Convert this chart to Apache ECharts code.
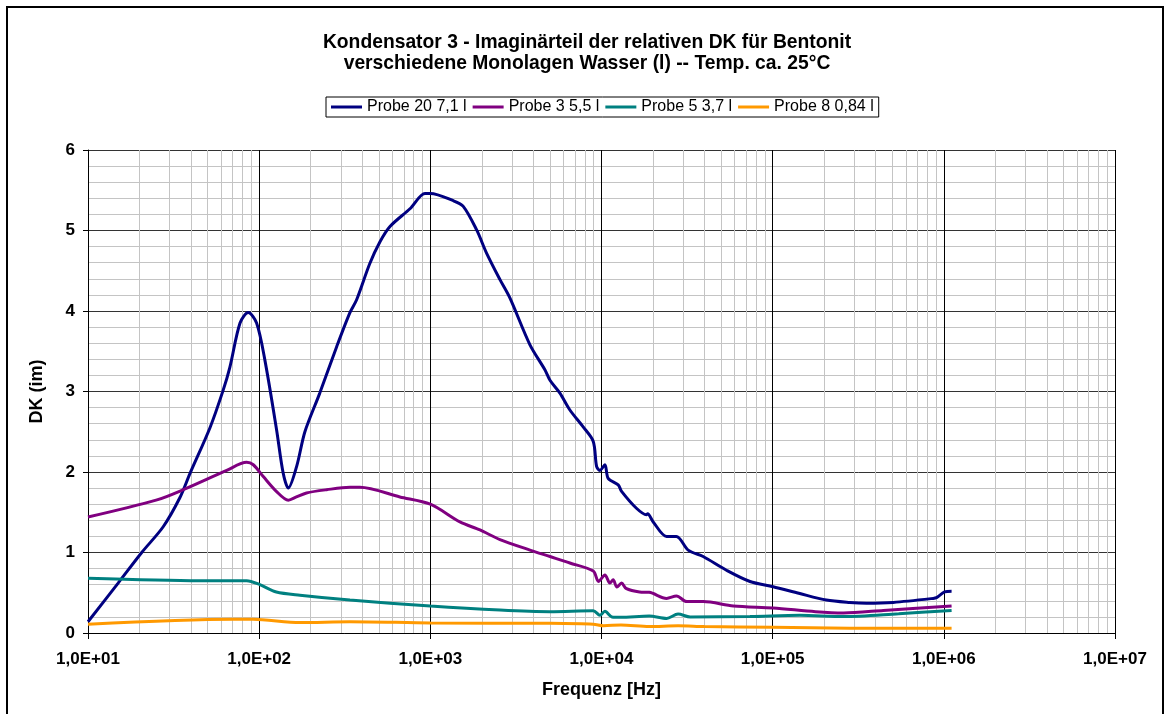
<!DOCTYPE html>
<html>
<head>
<meta charset="utf-8">
<script src="https://cdn.jsdelivr.net/npm/echarts@6/dist/echarts.min.js"></script>
<style>html,body{margin:0;padding:0;background:#fff}#c{width:1164px;height:714px}</style>
</head>
<body>
<div id="c"></div>
<script>
// ---- data ----
const seriesNames = ['Probe 20 7,1 l', 'Probe 3 5,5 l', 'Probe 5 3,7 l', 'Probe 8 0,84 l'];

const freq20 = [10, 15, 20.6, 27.5, 34.4, 39.4, 51.6, 61.7, 67.4, 77.3, 86.3, 96.6, 108, 126.5, 138, 148, 165.6, 185, 226, 284, 339, 371, 443, 508, 581, 760, 930, 1000, 1362, 1557, 1862, 2130, 2552, 2920, 3820, 4670, 5000, 5716, 6535, 7815, 8950, 9360, 9790, 10470, 10940, 12520, 13100, 16000, 18300, 18600, 20050, 24000, 27400, 32100, 39250, 53700, 73700, 100700, 144000, 206000, 282000, 353000, 506000, 867000, 906000, 1010000, 1110000];
const val20 = [0.14, 0.62, 1.0, 1.32, 1.68, 1.98, 2.55, 3.02, 3.30, 3.85, 3.98, 3.85, 3.39, 2.52, 1.99, 1.80, 2.07, 2.50, 2.98, 3.56, 3.98, 4.14, 4.59, 4.86, 5.05, 5.27, 5.46, 5.46, 5.37, 5.30, 5.01, 4.72, 4.39, 4.16, 3.58, 3.27, 3.14, 2.98, 2.77, 2.56, 2.38, 2.07, 2.02, 2.09, 1.92, 1.84, 1.76, 1.55, 1.47, 1.48, 1.38, 1.20, 1.20, 1.03, 0.95, 0.78, 0.64, 0.575, 0.49, 0.41, 0.38, 0.37, 0.38, 0.43, 0.44, 0.51, 0.52];

const freq3 = [10, 25, 36, 64.6, 84.5, 92.4, 106, 126, 148, 165, 189, 248, 339, 388, 664, 1000, 1489, 1950, 2552, 3820, 5000, 6535, 8950, 9600, 10470, 11200, 11700, 12300, 13100, 13900, 16700, 19000, 24000, 27400, 31500, 39250, 59000, 100700, 178000, 259000, 443000, 1110000];
const val3 = [1.44, 1.65, 1.78, 2.02, 2.12, 2.09, 1.94, 1.76, 1.65, 1.69, 1.74, 1.78, 1.81, 1.81, 1.69, 1.60, 1.38, 1.28, 1.16, 1.03, 0.95, 0.87, 0.77, 0.64, 0.72, 0.62, 0.66, 0.57, 0.62, 0.555, 0.51, 0.505, 0.43, 0.46, 0.39, 0.39, 0.335, 0.31, 0.265, 0.25, 0.28, 0.335];

const freq5 = [10, 45, 84.5, 101, 126, 173, 339, 1000, 2552, 5000, 8950, 9790, 10470, 11500, 12900, 19000, 24000, 28000, 33000, 73700, 144000, 259000, 545000, 1110000];
const val5 = [0.68, 0.65, 0.65, 0.60, 0.51, 0.47, 0.41, 0.335, 0.285, 0.265, 0.277, 0.22, 0.27, 0.20, 0.195, 0.21, 0.18, 0.235, 0.20, 0.205, 0.22, 0.205, 0.24, 0.28];

const freq8 = [10, 70.6, 92, 173, 339, 1000, 5000, 8950, 10300, 13000, 19000, 28000, 40000, 100000, 282000, 1110000];
const val8 = [0.11, 0.17, 0.17, 0.13, 0.14, 0.125, 0.12, 0.11, 0.09, 0.10, 0.08, 0.09, 0.08, 0.07, 0.06, 0.06];

const xTickLabels = ['1,0E+01', '1,0E+02', '1,0E+03', '1,0E+04', '1,0E+05', '1,0E+06', '1,0E+07'];
const yTickLabels = ['0', '1', '2', '3', '4', '5', '6'];
const minorFreqs = [];
[10, 100, 1000, 10000, 100000, 1000000].forEach(d => { for (let k = 2; k <= 9; k++) minorFreqs.push(k * d); });

const colors = ['#000080', '#800080', '#008080', '#FF9900'];
const freqs = [freq20, freq3, freq5, freq8];
const vals = [val20, val3, val5, val8];

const chart = echarts.init(document.getElementById('c'));
const font = 'Arial, "Liberation Sans", sans-serif';

const dataSeries = seriesNames.map((n, i) => ({
  name: n,
  type: 'line',
  data: freqs[i].map((f, j) => [f, vals[i][j]]),
  smooth: 0.3,
  showSymbol: false,
  symbol: 'none',
  z: 5,
  lineStyle: { color: colors[i], width: 3 },
  itemStyle: { color: colors[i] }
}));

chart.setOption({
  animation: false,
  backgroundColor: '#fff',
  title: {
    text: 'Kondensator 3 - Imaginärteil der relativen DK für Bentonit\nverschiedene Monolagen Wasser (l) -- Temp. ca. 25°C',
    left: 582,
    top: 27,
    padding: 5,
    textAlign: 'center',
    textStyle: { fontFamily: font, fontSize: 19.3, fontWeight: 'bold', color: '#000', lineHeight: 21 }
  },
  legend: {
    data: seriesNames,
    left: 326,
    top: 97,
    orient: 'horizontal',
    padding: [2, 5],
    itemGap: 6,
    itemWidth: 31,
    itemHeight: 3,
    icon: 'rect',
    borderColor: '#000',
    borderWidth: 1,
    borderRadius: 0,
    textStyle: { fontFamily: font, fontSize: 16, color: '#000' }
  },
  grid: { left: 88, right: 49, top: 150, bottom: 81, containLabel: false, outerBoundsMode: 'none' },
  xAxis: {
    type: 'log',
    logBase: 10,
    min: 10,
    max: 1e7,
    name: 'Frequenz [Hz]',
    nameLocation: 'middle',
    nameGap: 48,
    nameTextStyle: { fontFamily: font, fontSize: 18, fontWeight: 'bold', color: '#000' },
    axisLine: { show: true, lineStyle: { color: '#000', width: 1 } },
    axisTick: { show: true, length: 6, inside: false, lineStyle: { color: '#000' } },
    axisLabel: {
      margin: 18,
      fontFamily: font, fontSize: 17, fontWeight: 'bold', color: '#000',
      formatter: v => xTickLabels[Math.round(Math.log10(v)) - 1]
    },
    splitLine: { show: true, lineStyle: { color: '#000', width: 1 } }
  },
  yAxis: {
    type: 'value',
    min: 0,
    max: 6,
    interval: 1,
    name: 'DK (im)',
    nameLocation: 'middle',
    nameGap: 42,
    nameRotate: 90,
    nameTextStyle: { fontFamily: font, fontSize: 18, fontWeight: 'bold', color: '#000' },
    axisLine: { show: true, lineStyle: { color: '#000', width: 1 } },
    axisTick: { show: true, length: 5, lineStyle: { color: '#000' } },
    axisLabel: {
      margin: 13,
      fontFamily: font, fontSize: 17, fontWeight: 'bold', color: '#000',
      formatter: v => yTickLabels[Math.round(v)]
    },
    splitLine: { show: true, lineStyle: { color: '#333', width: 1 } },
    minorTick: { show: false, splitNumber: 5 },
    minorSplitLine: { show: true, lineStyle: { color: '#c4c4c4', width: 1 } }
  },
  graphic: [{
    type: 'rect',
    shape: { x: 7, y: 7, width: 1156, height: 730 },
    style: { fill: 'none', stroke: '#000', lineWidth: 2 },
    silent: true
  }],
  series: [{
    type: 'line',
    name: 'minorgrid',
    data: [],
    silent: true,
    z: 1,
    markLine: {
      silent: true,
      symbol: ['none', 'none'],
      label: { show: false },
      emphasis: { disabled: true },
      animation: false,
      lineStyle: { color: '#c4c4c4', type: 'solid', width: 1 },
      data: minorFreqs.map(v => ({ xAxis: v }))
    }
  }].concat(dataSeries)
});
</script>
</body>
</html>
